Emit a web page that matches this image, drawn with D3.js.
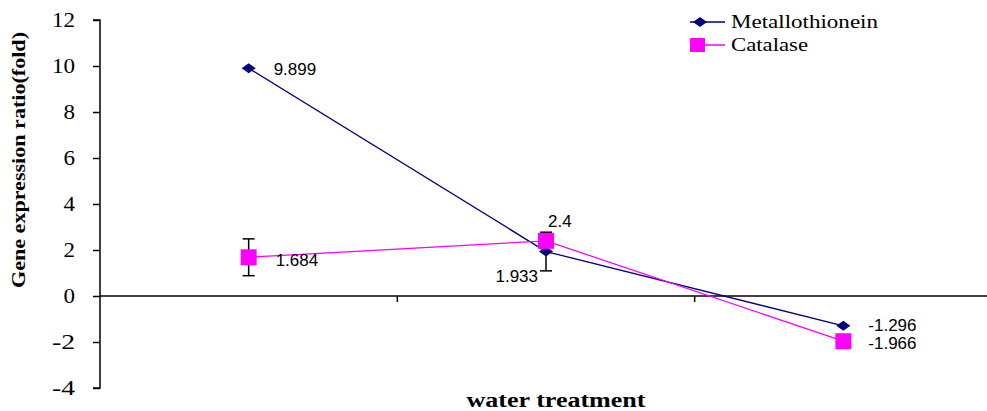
<!DOCTYPE html>
<html><head><meta charset="utf-8">
<script src="https://cdn.jsdelivr.net/npm/d3@7"></script>
<style>body{margin:0;background:#fff}svg{display:block}</style>
</head><body>
<script>
const categories = ["1", "2", "3"];
const metallothionein = [9.899, 1.933, -1.296];
const metalloErr = [0, 0.84, 0];
const catalase = [1.684, 2.4, -1.966];
const catalaseErr = [0.8, 0, 0];
const yTicks = [-4, -2, 0, 2, 4, 6, 8, 10, 12];
const seriesNames = ["Metallothionein", "Catalase"];

const SERIF = "'Liberation Serif', 'Times New Roman', serif";
const SANS = "'Liberation Sans', Arial, sans-serif";
const W = 987, H = 411;
const svg = d3.select("body").append("svg").attr("width", W).attr("height", H);
const x = d3.scaleBand().domain(categories).range([100, 992]);
const y = d3.scaleLinear().domain([-4, 12]).range([388, 20]);
const cx = d => x(d) + x.bandwidth() / 2;
const fmt = v => String(v);

// y axis
const ya = svg.append("g").attr("transform", "translate(100,0)")
  .call(d3.axisLeft(y).tickValues(yTicks).tickSize(7).tickFormat(() => ""));
ya.select(".domain").attr("stroke", "#000").attr("stroke-width", 1.5).attr("d", "M-7,20H0V388H-7");
ya.selectAll(".tick line").attr("stroke", "#000").attr("stroke-width", 1.5);
svg.append("g").selectAll("text").data(yTicks).join("text")
  .attr("x", 75).attr("y", d => y(d) + 7).attr("text-anchor", "end")
  .attr("font-family", SERIF).attr("font-size", 21).attr("fill", "#000")
  .attr("textLength", d => String(d).length * 11.5).attr("lengthAdjust", "spacingAndGlyphs")
  .text(d => String(d));

// x axis at zero
const xa = svg.append("g").attr("transform", `translate(0,${y(0)})`);
xa.append("line").attr("x1", 100).attr("x2", 992).attr("stroke", "#000").attr("stroke-width", 1.5);
categories.slice(1).forEach(c => {
  xa.append("line").attr("x1", x(c)).attr("x2", x(c)).attr("y1", 0).attr("y2", 6)
    .attr("stroke", "#000").attr("stroke-width", 1.5);
});

// titles
svg.append("text").attr("transform", "translate(25,160) rotate(-90)")
  .attr("text-anchor", "middle").attr("font-family", SERIF).attr("font-weight", "bold")
  .attr("font-size", 19).attr("textLength", 256).attr("lengthAdjust", "spacingAndGlyphs")
  .text("Gene expression ratio(fold)");
svg.append("text").attr("x", 556).attr("y", 407)
  .attr("text-anchor", "middle").attr("font-family", SERIF).attr("font-weight", "bold")
  .attr("font-size", 20).attr("textLength", 179).attr("lengthAdjust", "spacingAndGlyphs")
  .text("water treatment");

const navy = "#000080", mag = "#FF00FF";
const line = d3.line().x((d, i) => cx(categories[i])).y(d => y(d));

function errBars(vals, errs) {
  vals.forEach((v, i) => {
    if (!errs[i]) return;
    const px = cx(categories[i]);
    const g = svg.append("g").attr("stroke", "#000").attr("stroke-width", 1.5);
    g.append("line").attr("x1", px).attr("x2", px).attr("y1", y(v + errs[i])).attr("y2", y(v - errs[i]));
    [v + errs[i], v - errs[i]].forEach(e => g.append("line").attr("x1", px - 6).attr("x2", px + 6).attr("y1", y(e)).attr("y2", y(e)));
  });
}
errBars(catalase, catalaseErr);
errBars(metallothionein, metalloErr);

svg.append("path").datum(metallothionein).attr("d", line).attr("fill", "none").attr("stroke", navy).attr("stroke-width", 1.3);
svg.append("path").datum(catalase).attr("d", line).attr("fill", "none").attr("stroke", mag).attr("stroke-width", 1.3);

const diamond = "M-7,0L0,-5L7,0L0,5Z";
metallothionein.forEach((v, i) => svg.append("path").attr("d", diamond)
  .attr("transform", `translate(${cx(categories[i])},${y(v)})`).attr("fill", navy));
catalase.forEach((v, i) => svg.append("rect").attr("x", cx(categories[i]) - 8).attr("y", y(v) - 8)
  .attr("width", 16).attr("height", 16).attr("fill", mag));

// value labels
const lab = (tx, ty, t, anchor) => svg.append("text").attr("x", tx).attr("y", ty).attr("text-anchor", anchor || "start")
  .attr("font-family", SANS).attr("font-size", 17).attr("fill", "#000").text(t);
lab(cx(categories[0]) + 25, y(metallothionein[0]) + 7, fmt(metallothionein[0]));
lab(cx(categories[0]) + 27, y(catalase[0]) + 9, fmt(catalase[0]));
lab(cx(categories[1]) + 2, y(catalase[1]) - 14, fmt(catalase[1]));
lab(cx(categories[1]) - 8, y(metallothionein[1]) + 30, fmt(metallothionein[1]), "end");
lab(cx(categories[2]) + 25, y(metallothionein[2]) + 5, fmt(metallothionein[2]));
lab(cx(categories[2]) + 25, y(catalase[2]) + 8, fmt(catalase[2]));

// legend
const leg = svg.append("g");
[[navy, "diamond"], [mag, "square"]].forEach((s, i) => {
  const ly = 22 + i * 23;
  leg.append("line").attr("x1", 690).attr("x2", 725).attr("y1", ly).attr("y2", ly).attr("stroke", s[0]).attr("stroke-width", 1.5);
  if (s[1] === "diamond") leg.append("path").attr("d", diamond).attr("transform", `translate(700,${ly})`).attr("fill", s[0]);
  else leg.append("rect").attr("x", 690).attr("y", ly - 7).attr("width", 15).attr("height", 14).attr("fill", s[0]);
  leg.append("text").attr("x", 731).attr("y", ly + 6).attr("font-family", SERIF).attr("font-size", 19)
    .attr("textLength", i === 0 ? 147 : 77).attr("lengthAdjust", "spacingAndGlyphs")
    .attr("fill", "#000").text(seriesNames[i]);
});
</script>
</body></html>
